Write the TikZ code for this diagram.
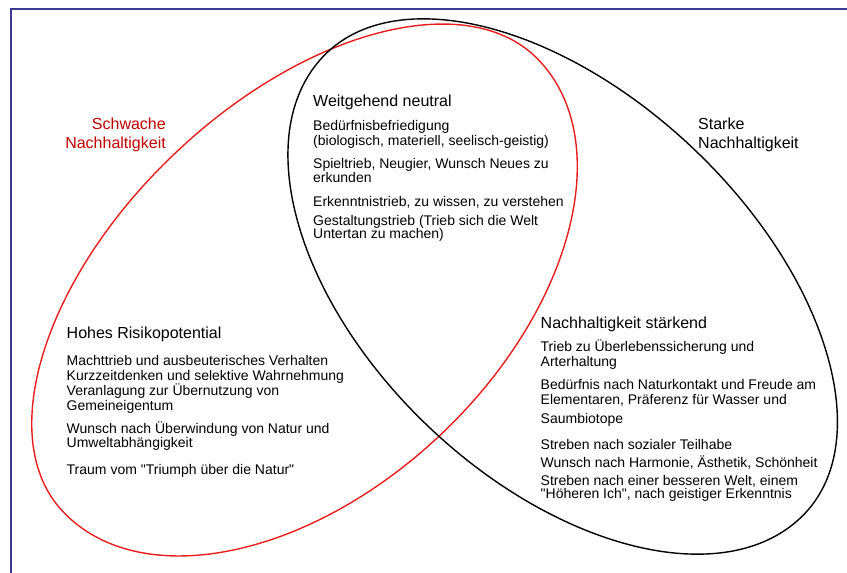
\documentclass[tikz,border=0pt]{standalone}
\usepackage{fontspec}
\setmainfont{Liberation Sans}[Ligatures=TeXOff]
\usepackage{xcolor}
\usepackage{tikz}
\usetikzlibrary{positioning}
\definecolor{weakred}{HTML}{C00000}
\definecolor{ringred}{HTML}{E81E1E}
\definecolor{frameblue}{HTML}{3B3B8F}

\tikzset{
  ring/.style={line width=1.4pt},
  group/.style={anchor=base west, align=left, inner sep=0pt,
                font=\fontsize{14}{14.5}\selectfont},
  sidetitle/.style={inner sep=0pt, font=\fontsize{16}{19}\selectfont},
}
\newcommand{\grouphead}[1]{{\fontsize{16}{19}\selectfont #1}}

\begin{document}
\begin{tikzpicture}[x=1pt, y=1pt]
  \useasboundingbox (0,0) rectangle (847,573);
  \draw[frameblue, line width=2pt] (11,0) -- (11,564) -- (847,564);

  \coordinate (weakc) at (301,287);
  \coordinate (strongc) at (564,288);
  % each ring is two half ellipses, a little wider on the lower side
  \begin{scope}[shift={(weakc)}, rotate=43.5]
    \draw[ring, ringred] (328,0) arc[start angle=0, end angle=180, x radius=328, y radius=183]
      arc[start angle=180, end angle=360, x radius=328, y radius=204] -- cycle;
  \end{scope}
  \begin{scope}[shift={(strongc)}, rotate=-43.5]
    \draw[ring, black] (-332,0) arc[start angle=180, end angle=0, x radius=332, y radius=188]
      arc[start angle=360, end angle=180, x radius=332, y radius=196] -- cycle;
  \end{scope}

  % base anchor sits on the last line
  \node[sidetitle, anchor=base east, align=right, text=weakred] (weaklbl) at (166,424.5)
    {Schwache\\Nachhaltigkeit};
  \node[sidetitle, anchor=base west, align=left] (stronglbl) at (698,424.5)
    {Starke\\Nachhaltigkeit};

  \node[group] (neutral) at (313,334) {%
    \grouphead{Weitgehend neutral}\\[9.5pt]
    Bedürfnisbefriedigung\\
    (biologisch, materiell, seelisch-geistig)\\[8.5pt]
    Spieltrieb, Neugier, Wunsch Neues zu\\
    erkunden\\[9.5pt]
    Erkenntnistrieb, zu wissen, zu verstehen\\[4pt]
    Gestaltungstrieb (Trieb sich die Welt\\[-1pt]
    Untertan zu machen)};

  \node[group] (risk) at (66.5,98) {%
    \grouphead{Hohes Risikopotential}\\[12.5pt]
    Machttrieb und ausbeuterisches Verhalten\\
    Kurzzeitdenken und selektive Wahrnehmung\\
    Veranlagung zur Übernutzung von\\
    Gemeineigentum\\[7.5pt]
    Wunsch nach Überwindung von Natur und\\
    Umweltabhängigkeit\\[12.5pt]
    Traum vom "Triumph über die Natur"};

  \node[group] (strengthen) at (540.5,74) {%
    \grouphead{Nachhaltigkeit stärkend}\\[7pt]
    Trieb zu Überlebenssicherung und\\
    Arterhaltung\\[9pt]
    Bedürfnis nach Naturkontakt und Freude am\\
    Elementaren, Präferenz für Wasser und\\[4.5pt]
    Saumbiotope\\[11.5pt]
    Streben nach sozialer Teilhabe\\[3.5pt]
    Wunsch nach Harmonie, Ästhetik, Schönheit\\[3.5pt]
    Streben nach einer besseren Welt, einem\\[-1pt]
    "Höheren Ich", nach geistiger Erkenntnis};
\end{tikzpicture}
\end{document}
